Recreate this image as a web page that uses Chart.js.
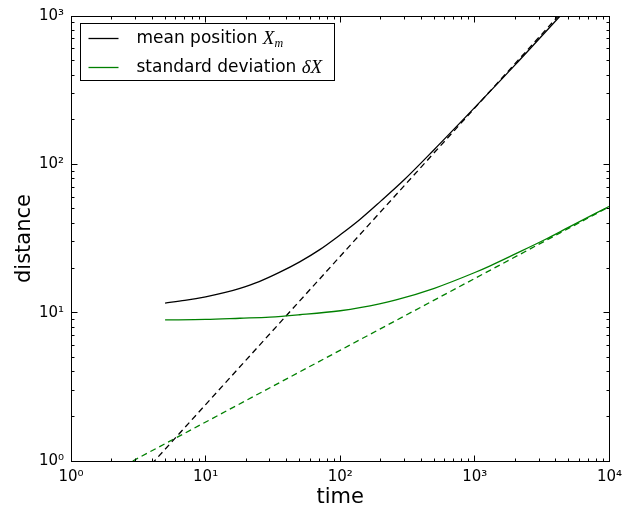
<!DOCTYPE html>
<html>
<head>
<meta charset="utf-8">
<script src="https://cdn.jsdelivr.net/npm/chart.js@4.4.1/dist/chart.umd.min.js"></script>
<style>
  html, body { margin: 0; padding: 0; background: #fff; }
  #wrap { width: 629px; height: 509px; }
</style>
</head>
<body>
<div id="wrap"><canvas id="chart" width="629" height="509"></canvas></div>
<script>
// values (log-log axes)
const meanTime = [5, 7, 10, 14, 18, 25, 35, 50, 70, 100, 140, 200, 300, 500, 1000, 2000, 4300];
const meanPos = [11.6, 12.1, 12.8, 13.7, 14.6, 16.2, 18.6, 22.0, 26.5, 33.5, 42.5, 56.5, 79, 126, 242, 470, 1000];

const stdTime = [5, 10, 18, 30, 50, 100, 140, 260, 500, 1000, 1300, 2000, 3300, 5000, 10000];
const stdDev = [8.93, 9.0, 9.17, 9.33, 9.68, 10.3, 10.8, 12.2, 14.6, 18.65, 20.7, 24.9, 31.0, 37.7, 52.2];

// dashed asymptotes, straight on log-log
const fitTime = [1, 10000];
const meanFit = [0.24, 2400];
const stdFit = [0.6, 51.9];

const legendText = ["mean position", "standard deviation"];
const legendSymbol = ["X", "\u03B4X"];
const legendSub = ["m", ""];

const tickLabels = ["10\u2070", "10\u00B9", "10\u00B2", "10\u00B3", "10\u2074"];

const FONT = "DejaVu Sans";

function pts(xs, ys) {
  return xs.map((x, i) => ({ x: x, y: ys[i] }));
}

// 1,2,...,9,10,20,... like matplotlib minor ticks
function logTicks(scale) {
  let list = [];
  for (let e = Math.round(Math.log10(scale.min)); e < Math.round(Math.log10(scale.max)); e++) {
    for (let s = 1; s < 10; s++) list.push({ value: s * Math.pow(10, e) });
  }
  list.push({ value: scale.max });
  scale.ticks = list;
}

function tickText(v) {
  let e = Math.log10(v);
  if (Math.abs(e - Math.round(e)) < 1e-9) return tickLabels[Math.round(e)];
  return "";
}

// box round the plot, ticks pointing inward on all four sides
const spines = {
  id: "spines",
  afterDraw(chart) {
    const { ctx, chartArea: a, scales } = chart;
    const L = Math.floor(a.left) + 0.5, R = Math.floor(a.right) + 0.5;
    const T = Math.floor(a.top) + 0.5, B = Math.floor(a.bottom) + 0.5;
    ctx.save();
    ctx.strokeStyle = "#000";
    ctx.lineWidth = 1;
    ctx.strokeRect(L, T, R - L, B - T);
    ctx.beginPath();
    scales.x.ticks.forEach((t) => {
      let px = Math.floor(scales.x.getPixelForValue(t.value)) + 0.5;
      let len = tickText(t.value) ? 6 : 3;
      ctx.moveTo(px, B); ctx.lineTo(px, B - len);
      ctx.moveTo(px, T); ctx.lineTo(px, T + len);
    });
    scales.y.ticks.forEach((t) => {
      let py = Math.floor(scales.y.getPixelForValue(t.value)) + 0.5;
      let len = tickText(t.value) ? 6 : 3;
      ctx.moveTo(L, py); ctx.lineTo(L + len, py);
      ctx.moveTo(R, py); ctx.lineTo(R - len, py);
    });
    ctx.stroke();
    ctx.restore();
  },
};

const legendBox = {
  id: "legendBox",
  afterDraw(chart) {
    const ctx = chart.ctx;
    const x0 = 80.5, y0 = 23.5, w = 254, h = 57;
    ctx.save();
    ctx.fillStyle = "#fff";
    ctx.fillRect(x0, y0, w, h);
    ctx.strokeStyle = "#000";
    ctx.lineWidth = 1;
    ctx.strokeRect(x0, y0, w, h);
    legendText.forEach((txt, i) => {
      const ds = chart.data.datasets[i];
      const y = y0 + 15 + i * 29;
      ctx.strokeStyle = ds.borderColor;
      ctx.lineWidth = ds.borderWidth;
      ctx.beginPath();
      ctx.moveTo(x0 + 8, y);
      ctx.lineTo(x0 + 38, y);
      ctx.stroke();
      ctx.fillStyle = "#000";
      ctx.textBaseline = "middle";
      ctx.font = '17px "' + FONT + '"';
      let tx = x0 + 56;
      ctx.fillText(txt, tx, y);
      tx += ctx.measureText(txt + " ").width;
      ctx.font = 'italic 19px "Liberation Serif"';
      ctx.fillText(legendSymbol[i], tx, y);
      tx += ctx.measureText(legendSymbol[i]).width;
      if (legendSub[i]) {
        ctx.font = 'italic 12px "Liberation Serif"';
        ctx.fillText(legendSub[i], tx, y + 5);
      }
    });
    ctx.restore();
  },
};

const axisTicks = {
  autoSkip: false,
  maxRotation: 0,
  color: "#000",
  font: { family: FONT, size: 15 },
  callback: (v) => tickText(v),
};

new Chart(document.getElementById("chart"), {
  type: "line",
  data: {
    datasets: [
      {
        label: "mean position",
        data: pts(meanTime, meanPos),
        borderColor: "#000000",
        borderWidth: 1.3,
        pointRadius: 0,
        cubicInterpolationMode: "monotone",
      },
      {
        label: "standard deviation",
        data: pts(stdTime, stdDev),
        borderColor: "#008000",
        borderWidth: 1.3,
        pointRadius: 0,
        cubicInterpolationMode: "monotone",
      },
      {
        label: "mean fit",
        data: pts(fitTime, meanFit),
        borderColor: "#000000",
        borderWidth: 1.3,
        borderDash: [6, 4],
        pointRadius: 0,
      },
      {
        label: "std fit",
        data: pts(fitTime, stdFit),
        borderColor: "#008000",
        borderWidth: 1.3,
        borderDash: [6, 4],
        pointRadius: 0,
      },
    ],
  },
  options: {
    responsive: false,
    animation: false,
    layout: { padding: { left: 0, right: 19, top: 16, bottom: 0 } },
    plugins: {
      legend: { display: false },
      tooltip: { enabled: false },
    },
    scales: {
      x: {
        type: "logarithmic",
        position: "bottom",
        min: 1,
        max: 10000,
        grid: { display: false, drawTicks: false },
        border: { display: false },
        ticks: Object.assign({ padding: 7 }, axisTicks),
        afterBuildTicks: logTicks,
        afterFit: (s) => { s.height = 48; },
        title: {
          display: true,
          text: "time",
          color: "#000",
          font: { family: FONT, size: 21, lineHeight: 1.1 },
          padding: { top: 0, bottom: 0 },
        },
      },
      y: {
        type: "logarithmic",
        position: "left",
        min: 1,
        max: 1000,
        grid: { display: false, drawTicks: false },
        border: { display: false },
        ticks: Object.assign({ padding: 7 }, axisTicks),
        afterBuildTicks: logTicks,
        afterFit: (s) => { s.width = 71; },
        title: {
          display: true,
          text: "distance",
          color: "#000",
          font: { family: FONT, size: 21 },
          padding: { top: 12, bottom: 0 },
        },
      },
    },
  },
  plugins: [spines, legendBox],
});
</script>
</body>
</html>
